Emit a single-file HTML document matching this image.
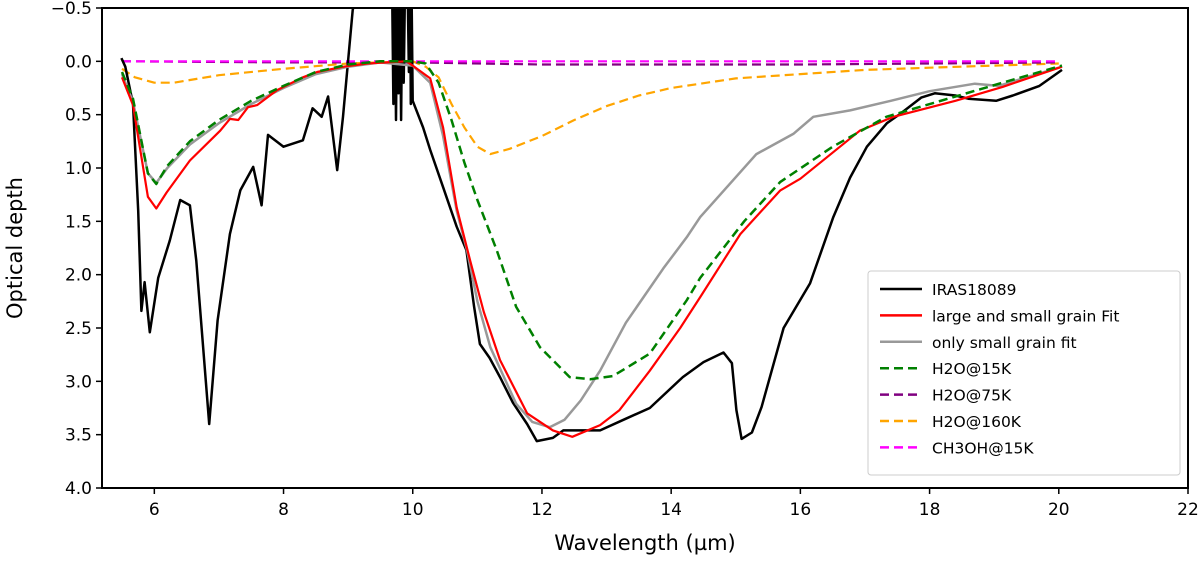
<!DOCTYPE html>
<html><head><meta charset="utf-8"><style>
body{margin:0;background:#fff;}
svg text{font-family:"DejaVu Sans","Liberation Sans",sans-serif;}
</style></head><body>
<svg id="chart" width="1200" height="558" viewBox="0 0 1200 558">
<defs><clipPath id="clip"><rect x="102" y="8" width="1086" height="480"/></clipPath></defs>
<g id="plot" clip-path="url(#clip)"></g>
<rect x="102" y="8" width="1086" height="480" fill="none" stroke="#000" stroke-width="2"/>
<g id="axes"></g>
<text x="645" y="550" text-anchor="middle" font-size="21">Wavelength (µm)</text>
<text transform="translate(22,248) rotate(-90)" text-anchor="middle" font-size="21">Optical depth</text>
<g id="legend"></g>
</svg>
<script>
const xTicks=[6,8,10,12,14,16,18,20,22];
const yTicks=[-0.5,0.0,0.5,1.0,1.5,2.0,2.5,3.0,3.5,4.0];
const seriesNames=["IRAS18089","large and small grain Fit","only small grain fit","H2O@15K","H2O@75K","H2O@160K","CH3OH@15K"];
const iras=[[5.49,-0.03],[5.55,0.05],[5.67,0.4],[5.75,1.4],[5.8,2.34],[5.85,2.07],[5.93,2.54],[6.06,2.03],[6.24,1.68],[6.4,1.3],[6.55,1.35],[6.65,1.87],[6.85,3.4],[6.98,2.43],[7.17,1.62],[7.33,1.21],[7.53,0.99],[7.66,1.35],[7.76,0.69],[8.0,0.8],[8.3,0.74],[8.45,0.44],[8.59,0.52],[8.69,0.33],[8.83,1.02],[8.92,0.52],[9.07,-0.48],[9.15,-0.7],[9.68,-0.7],[9.7,0.4],[9.72,-0.7],[9.74,0.55],[9.76,-0.7],[9.78,0.3],[9.8,-0.7],[9.82,0.55],[9.84,-0.7],[9.86,0.2],[9.88,-0.7],[9.92,-0.7],[9.94,0.1],[9.96,-0.7],[9.97,0.4],[9.98,-0.7],[10.0,0.37],[10.16,0.62],[10.27,0.83],[10.47,1.18],[10.68,1.55],[10.83,1.77],[10.95,2.3],[11.04,2.65],[11.19,2.78],[11.35,2.96],[11.55,3.2],[11.77,3.4],[11.92,3.56],[12.17,3.53],[12.33,3.46],[12.9,3.46],[13.3,3.35],[13.67,3.25],[14.18,2.96],[14.5,2.82],[14.81,2.73],[14.94,2.83],[15.01,3.27],[15.09,3.54],[15.25,3.48],[15.4,3.24],[15.74,2.5],[16.15,2.08],[16.51,1.46],[16.77,1.09],[17.03,0.8],[17.34,0.58],[17.55,0.49],[17.87,0.34],[18.08,0.3],[18.4,0.32],[18.6,0.35],[19.03,0.37],[19.29,0.32],[19.7,0.23],[20.05,0.08]];
const bothFit=[[5.5,0.15],[5.67,0.41],[5.9,1.27],[6.03,1.38],[6.19,1.23],[6.55,0.93],[7.02,0.65],[7.17,0.54],[7.3,0.55],[7.45,0.43],[7.59,0.41],[7.9,0.27],[8.3,0.15],[8.52,0.1],[8.93,0.05],[9.3,0.02],[9.9,0.0],[10.0,0.04],[10.27,0.16],[10.47,0.62],[10.68,1.37],[10.89,1.87],[11.1,2.35],[11.35,2.8],[11.77,3.3],[12.17,3.46],[12.47,3.52],[12.9,3.41],[13.2,3.27],[13.67,2.9],[14.14,2.5],[14.45,2.21],[15.07,1.62],[15.69,1.21],[16.0,1.1],[16.92,0.65],[17.44,0.52],[18.4,0.37],[19.13,0.24],[20.05,0.05]];
const smallFit=[[5.5,0.12],[5.67,0.38],[5.9,1.05],[6.03,1.14],[6.2,1.0],[6.55,0.78],[7.0,0.58],[7.5,0.4],[8.0,0.25],[8.5,0.12],[9.0,0.05],[9.5,0.01],[10.0,0.04],[10.27,0.2],[10.47,0.7],[10.68,1.4],[10.84,1.77],[11.0,2.25],[11.2,2.68],[11.6,3.21],[11.85,3.38],[12.12,3.43],[12.35,3.36],[12.6,3.18],[12.9,2.9],[13.3,2.45],[13.88,1.94],[14.24,1.65],[14.45,1.46],[15.32,0.87],[15.89,0.68],[16.2,0.52],[16.77,0.46],[17.4,0.37],[18.0,0.28],[18.7,0.21],[19.07,0.23],[19.5,0.15],[20.05,0.05]];
const h2o15=[[5.5,0.1],[5.67,0.35],[5.9,1.05],[6.03,1.15],[6.2,0.98],[6.55,0.75],[7.0,0.55],[7.5,0.37],[8.0,0.23],[8.5,0.1],[9.0,0.03],[9.5,0.0],[10.0,0.0],[10.2,0.02],[10.4,0.2],[10.6,0.55],[10.8,0.95],[11.0,1.3],[11.3,1.77],[11.6,2.3],[11.97,2.68],[12.43,2.96],[12.75,2.98],[13.1,2.95],[13.67,2.74],[14.24,2.24],[14.45,2.03],[15.13,1.5],[15.69,1.13],[16.5,0.8],[17.33,0.52],[18.4,0.33],[19.13,0.2],[20.05,0.04]];
const h2o75=[[5.5,0.0],[8.0,0.01],[10.0,0.01],[12.0,0.03],[14.0,0.03],[16.0,0.03],[18.0,0.02],[20.0,0.01]];
const h2o160=[[5.5,0.07],[5.7,0.15],[6.0,0.2],[6.3,0.2],[7.0,0.13],[8.0,0.07],[9.0,0.02],[10.0,0.0],[10.2,0.05],[10.4,0.15],[10.6,0.4],[10.8,0.62],[11.0,0.8],[11.2,0.87],[11.5,0.82],[12.0,0.7],[12.5,0.55],[13.0,0.42],[13.5,0.32],[14.0,0.25],[15.0,0.16],[16.0,0.12],[17.0,0.08],[18.0,0.06],[19.0,0.04],[20.0,0.02]];
const ch3oh=[[5.5,0.0],[10.0,0.0],[15.0,0.0],[20.0,0.0]];

const NS="http://www.w3.org/2000/svg";
const X0=102,X1=1188,Y0=8,Y1=488,xmin=5.19,xmax=22,ymin=-0.5,ymax=4.0;
const sx=v=>X0+(v-xmin)/(xmax-xmin)*(X1-X0);
const sy=v=>Y0+(v-ymin)/(ymax-ymin)*(Y1-Y0);
function mk(tag,attrs,parent){const e=document.createElementNS(NS,tag);for(const k in attrs)e.setAttribute(k,attrs[k]);parent.appendChild(e);return e;}
const axes=document.getElementById('axes'),plot=document.getElementById('plot'),legend=document.getElementById('legend');
xTicks.forEach(t=>{const x=sx(t);
 const l=mk('line',{x1:x,x2:x,y1:Y1,y2:Y1+6,stroke:'#000','stroke-width':1.5},axes);
 
 
 const tx=mk('text',{x:x,y:Y1+27,'text-anchor':'middle','font-size':17},axes);tx.textContent=t;
 
 });
yTicks.forEach(t=>{const y=sy(t);
 const l=mk('line',{x1:X0-6,x2:X0,y1:y,y2:y,stroke:'#000','stroke-width':1.5},axes);
 
 
 const tx=mk('text',{x:X0-10,y:y+6,'text-anchor':'end','font-size':17},axes);tx.textContent=(t<0?'\u2212':'')+Math.abs(t).toFixed(1);
 
 });
const series=[
 {d:h2o160,c:'#ffa500',dash:'9,5',w:2.2,n:'h2o-160k-line'},
 {d:h2o75,c:'#800080',dash:'9,5',w:2.2,n:'h2o-75k-line'},
 {d:ch3oh,c:'#ff00ff',dash:'9,5',w:2.2,n:'ch3oh-15k-line'},
 {d:iras,c:'#000',dash:'',w:2.5,n:'iras18089-line'},
 {d:smallFit,c:'#999999',dash:'',w:2.5,n:'small-grain-fit-line'},
 {d:bothFit,c:'#ff0000',dash:'',w:2.2,n:'large-small-grain-fit-line'},
 {d:h2o15,c:'#008000',dash:'9,5',w:2.5,n:'h2o-15k-line'}];
series.forEach(s=>{const p=mk('path',{d:'M'+s.d.map(q=>sx(q[0]).toFixed(1)+','+sy(q[1]).toFixed(1)).join('L'),fill:'none',stroke:s.c,'stroke-width':s.w,'stroke-linejoin':'round'},plot);
 if(s.dash)p.setAttribute('stroke-dasharray',s.dash);
 
 });
const legColors=['#000','#ff0000','#999999','#008000','#800080','#ffa500','#ff00ff'];
const legDash=['','','','9,5','9,5','9,5','9,5'];
mk('rect',{x:868,y:271,width:312,height:204,fill:'#fff',stroke:'#ccc',rx:3},legend);
seriesNames.forEach((nm,i)=>{const y=289+i*26.4;
 const l=mk('line',{x1:880,x2:922,y1:y,y2:y,stroke:legColors[i],'stroke-width':2.5},legend);
 if(legDash[i])l.setAttribute('stroke-dasharray',legDash[i]);
 
 
 const t=mk('text',{x:932,y:y+6,'font-size':15.5},legend);t.textContent=nm;
 
 });
</script>
</body></html>
